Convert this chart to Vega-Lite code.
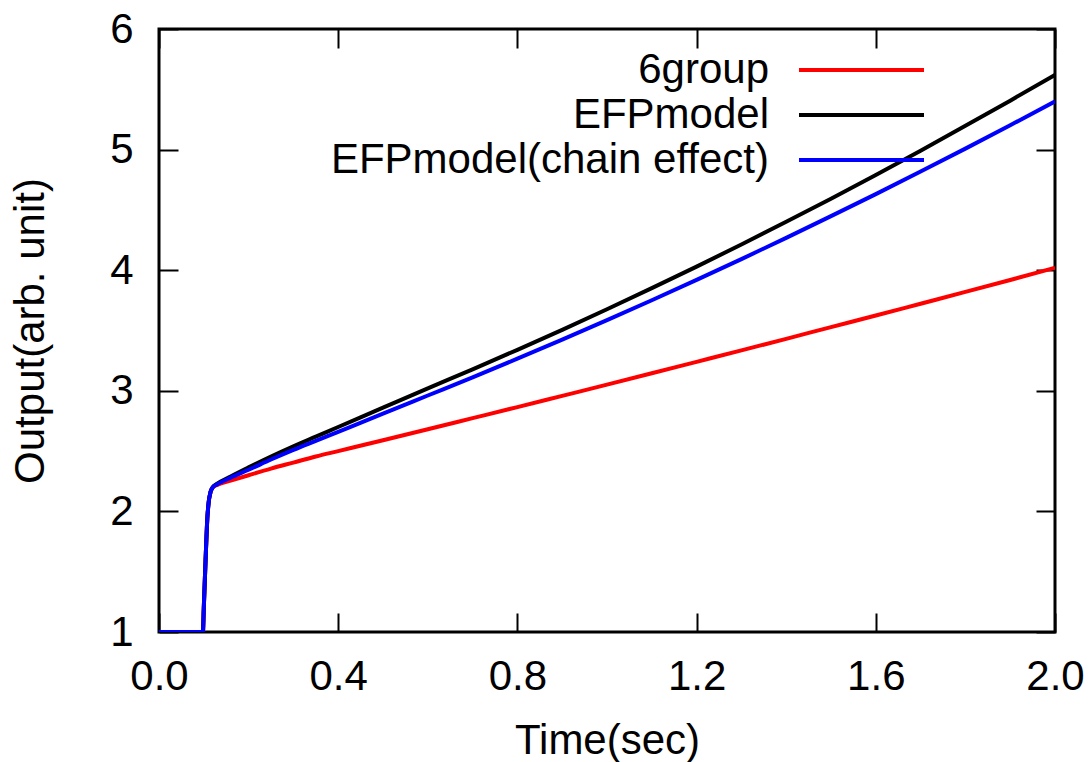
{
  "$schema": "https://vega.github.io/schema/vega-lite/v6.json",
  "width": 896,
  "height": 603,
  "autosize": {"type": "none"},
  "padding": {"left": 159, "top": 29, "right": 37, "bottom": 130},
  "background": "white",
  "config": {
    "font": "Liberation Sans",
    "view": {"stroke": "black", "strokeWidth": 3},
    "axis": {
      "domain": false,
      "grid": false,
      "labelFont": "Liberation Sans",
      "labelFontSize": 42,
      "labelColor": "black",
      "titleFont": "Liberation Sans",
      "titleFontSize": 42,
      "titleFontWeight": "normal",
      "titleColor": "black",
      "tickColor": "black",
      "tickWidth": 2,
      "tickSize": -19,
      "labelFlush": false,
      "labelOverlap": false
    }
  },
  "data": {"values": [
    {"series": "6group", "t": 0.0, "v": 1.0},
    {"series": "6group", "t": 0.098, "v": 1.0},
    {"series": "6group", "t": 0.1, "v": 1.2},
    {"series": "6group", "t": 0.104, "v": 1.6},
    {"series": "6group", "t": 0.108, "v": 1.95},
    {"series": "6group", "t": 0.111, "v": 2.08},
    {"series": "6group", "t": 0.115, "v": 2.16},
    {"series": "6group", "t": 0.12, "v": 2.2},
    {"series": "6group", "t": 0.13, "v": 2.22},
    {"series": "6group", "t": 0.16, "v": 2.255},
    {"series": "6group", "t": 0.2, "v": 2.3},
    {"series": "6group", "t": 0.25, "v": 2.355},
    {"series": "6group", "t": 0.3, "v": 2.405},
    {"series": "6group", "t": 0.35, "v": 2.455},
    {"series": "6group", "t": 0.4, "v": 2.5},
    {"series": "6group", "t": 0.5, "v": 2.59},
    {"series": "6group", "t": 0.6, "v": 2.681},
    {"series": "6group", "t": 0.7, "v": 2.773},
    {"series": "6group", "t": 0.8, "v": 2.865},
    {"series": "6group", "t": 0.9, "v": 2.958},
    {"series": "6group", "t": 1.0, "v": 3.051},
    {"series": "6group", "t": 1.1, "v": 3.145},
    {"series": "6group", "t": 1.2, "v": 3.24},
    {"series": "6group", "t": 1.3, "v": 3.335},
    {"series": "6group", "t": 1.4, "v": 3.431},
    {"series": "6group", "t": 1.5, "v": 3.528},
    {"series": "6group", "t": 1.6, "v": 3.624},
    {"series": "6group", "t": 1.7, "v": 3.722},
    {"series": "6group", "t": 1.8, "v": 3.82},
    {"series": "6group", "t": 1.9, "v": 3.919},
    {"series": "6group", "t": 2.0, "v": 4.02},
    {"series": "EFPmodel", "t": 0.0, "v": 1.0},
    {"series": "EFPmodel", "t": 0.098, "v": 1.0},
    {"series": "EFPmodel", "t": 0.1, "v": 1.2},
    {"series": "EFPmodel", "t": 0.104, "v": 1.6},
    {"series": "EFPmodel", "t": 0.108, "v": 1.95},
    {"series": "EFPmodel", "t": 0.111, "v": 2.08},
    {"series": "EFPmodel", "t": 0.115, "v": 2.16},
    {"series": "EFPmodel", "t": 0.12, "v": 2.2},
    {"series": "EFPmodel", "t": 0.13, "v": 2.23},
    {"series": "EFPmodel", "t": 0.16, "v": 2.29},
    {"series": "EFPmodel", "t": 0.2, "v": 2.365},
    {"series": "EFPmodel", "t": 0.25, "v": 2.455},
    {"series": "EFPmodel", "t": 0.3, "v": 2.54},
    {"series": "EFPmodel", "t": 0.35, "v": 2.62},
    {"series": "EFPmodel", "t": 0.4, "v": 2.70},
    {"series": "EFPmodel", "t": 0.5, "v": 2.86},
    {"series": "EFPmodel", "t": 0.6, "v": 3.02},
    {"series": "EFPmodel", "t": 0.7, "v": 3.178},
    {"series": "EFPmodel", "t": 0.8, "v": 3.34},
    {"series": "EFPmodel", "t": 0.9, "v": 3.505},
    {"series": "EFPmodel", "t": 1.0, "v": 3.676},
    {"series": "EFPmodel", "t": 1.1, "v": 3.851},
    {"series": "EFPmodel", "t": 1.2, "v": 4.03},
    {"series": "EFPmodel", "t": 1.3, "v": 4.213},
    {"series": "EFPmodel", "t": 1.4, "v": 4.401},
    {"series": "EFPmodel", "t": 1.5, "v": 4.593},
    {"series": "EFPmodel", "t": 1.6, "v": 4.79},
    {"series": "EFPmodel", "t": 1.7, "v": 4.991},
    {"series": "EFPmodel", "t": 1.8, "v": 5.197},
    {"series": "EFPmodel", "t": 1.9, "v": 5.406},
    {"series": "EFPmodel", "t": 2.0, "v": 5.62},
    {"series": "EFPmodel(chain effect)", "t": 0.0, "v": 1.0},
    {"series": "EFPmodel(chain effect)", "t": 0.098, "v": 1.0},
    {"series": "EFPmodel(chain effect)", "t": 0.1, "v": 1.2},
    {"series": "EFPmodel(chain effect)", "t": 0.104, "v": 1.6},
    {"series": "EFPmodel(chain effect)", "t": 0.108, "v": 1.95},
    {"series": "EFPmodel(chain effect)", "t": 0.111, "v": 2.08},
    {"series": "EFPmodel(chain effect)", "t": 0.115, "v": 2.16},
    {"series": "EFPmodel(chain effect)", "t": 0.12, "v": 2.2},
    {"series": "EFPmodel(chain effect)", "t": 0.13, "v": 2.225},
    {"series": "EFPmodel(chain effect)", "t": 0.16, "v": 2.28},
    {"series": "EFPmodel(chain effect)", "t": 0.2, "v": 2.345},
    {"series": "EFPmodel(chain effect)", "t": 0.25, "v": 2.43},
    {"series": "EFPmodel(chain effect)", "t": 0.3, "v": 2.51},
    {"series": "EFPmodel(chain effect)", "t": 0.35, "v": 2.585},
    {"series": "EFPmodel(chain effect)", "t": 0.4, "v": 2.66},
    {"series": "EFPmodel(chain effect)", "t": 0.5, "v": 2.81},
    {"series": "EFPmodel(chain effect)", "t": 0.6, "v": 2.961},
    {"series": "EFPmodel(chain effect)", "t": 0.7, "v": 3.112},
    {"series": "EFPmodel(chain effect)", "t": 0.8, "v": 3.266},
    {"series": "EFPmodel(chain effect)", "t": 0.9, "v": 3.424},
    {"series": "EFPmodel(chain effect)", "t": 1.0, "v": 3.586},
    {"series": "EFPmodel(chain effect)", "t": 1.1, "v": 3.751},
    {"series": "EFPmodel(chain effect)", "t": 1.2, "v": 3.92},
    {"series": "EFPmodel(chain effect)", "t": 1.3, "v": 4.092},
    {"series": "EFPmodel(chain effect)", "t": 1.4, "v": 4.268},
    {"series": "EFPmodel(chain effect)", "t": 1.5, "v": 4.448},
    {"series": "EFPmodel(chain effect)", "t": 1.6, "v": 4.631},
    {"series": "EFPmodel(chain effect)", "t": 1.7, "v": 4.818},
    {"series": "EFPmodel(chain effect)", "t": 1.8, "v": 5.008},
    {"series": "EFPmodel(chain effect)", "t": 1.9, "v": 5.202},
    {"series": "EFPmodel(chain effect)", "t": 2.0, "v": 5.4}
  ]},
  "layer": [
    {
      "mark": {"type": "line", "strokeWidth": 4, "interpolate": "monotone", "clip": true},
      "encoding": {
        "x": {
          "field": "t", "type": "quantitative",
          "scale": {"domain": [0, 2], "nice": false, "zero": false},
          "axis": {"title": "Time(sec)", "values": [0, 0.4, 0.8, 1.2, 1.6, 2.0], "format": ".1f", "labelPadding": 43, "titlePadding": 23}
        },
        "y": {
          "field": "v", "type": "quantitative",
          "scale": {"domain": [1, 6], "nice": false, "zero": false},
          "axis": {"title": "Output(arb. unit)", "values": [1, 2, 3, 4, 5, 6], "format": "d", "labelPadding": 45, "titlePadding": 57}
        },
        "color": {
          "field": "series", "type": "nominal",
          "scale": {"domain": ["6group", "EFPmodel", "EFPmodel(chain effect)"], "range": ["#ff0000", "#000000", "#0000ff"]},
          "legend": {
            "title": null,
            "orient": "none",
            "legendX": 680.5,
            "legendY": 19,
            "padding": 0,
            "symbolType": "M-3.125,0H3.125",
            "symbolSize": 1600,
            "symbolStrokeWidth": 4,
            "labelFont": "Liberation Sans",
            "labelFontSize": 42,
            "labelColor": "black",
            "labelAlign": "right",
            "labelOffset": -114.5,
            "labelLimit": 1000,
            "rowPadding": 2
          }
        }
      }
    },
    {
      "mark": {"type": "line", "opacity": 0},
      "encoding": {
        "x": {
          "field": "t", "type": "quantitative",
          "axis": {"orient": "top", "title": null, "labels": false, "values": [0, 0.4, 0.8, 1.2, 1.6, 2.0]}
        },
        "y": {
          "field": "v", "type": "quantitative",
          "axis": {"orient": "right", "title": null, "labels": false, "values": [1, 2, 3, 4, 5, 6]}
        },
        "detail": {"field": "series", "type": "nominal"}
      }
    }
  ],
  "resolve": {"axis": {"x": "independent", "y": "independent"}}
}
